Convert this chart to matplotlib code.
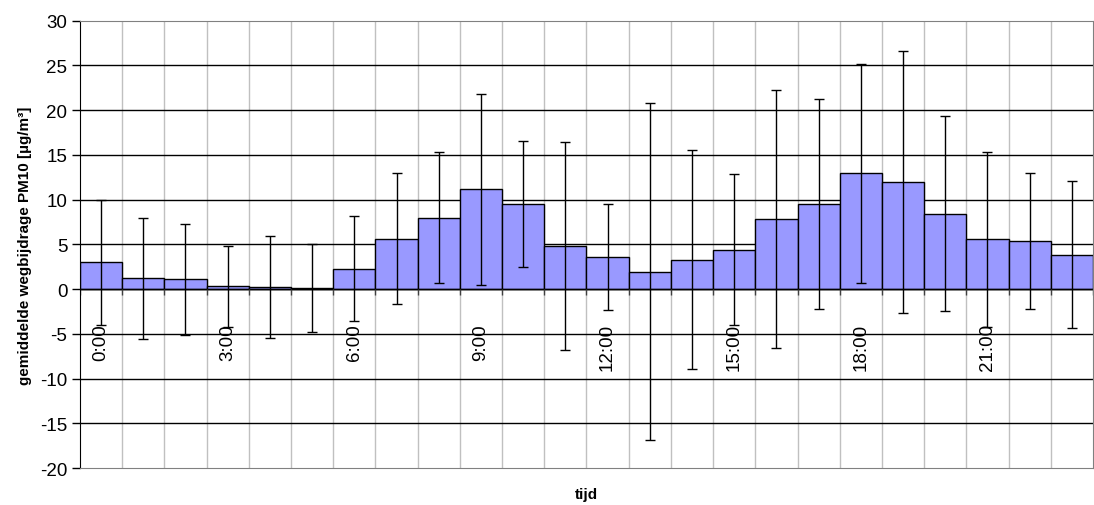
import numpy as np
import matplotlib
matplotlib.use("Agg")
import matplotlib.pyplot as plt

# ---------------- DATA ----------------

hours = list(range(24))
hour_labels = ["0:00", "3:00", "6:00", "9:00", "12:00", "15:00", "18:00", "21:00"]
label_hours = [0, 3, 6, 9, 12, 15, 18, 21]

mean_pm10 = [3.0, 1.2, 1.1, 0.3, 0.25, 0.1, 2.3, 5.65,
             8.0, 11.15, 9.5, 4.8, 3.6, 1.95, 3.3, 4.4,
             7.85, 9.5, 12.95, 12.0, 8.4, 5.55, 5.35, 3.85]

std_pm10 = [7.0, 6.75, 6.2, 4.5, 5.7, 4.9, 5.85, 7.3,
            7.35, 10.7, 7.0, 11.65, 5.95, 18.8, 12.2, 8.45,
            14.45, 11.7, 12.25, 14.65, 10.9, 9.8, 7.6, 8.25]

y_ticks = list(range(-20, 31, 5))

# ---------------- PLOT ----------------

plt.rcParams["font.family"] = ["Liberation Sans", "DejaVu Sans"]

fig = plt.figure(figsize=(10.94, 5.06), dpi=100)
ax = fig.add_axes([0.0731, 0.0731, 0.926, 0.884])

ax.bar(
    hours,
    mean_pm10,
    width=1.0,
    color="#9999FF",
    edgecolor="black",
    linewidth=1.0,
    zorder=2
)

ax.errorbar(
    hours,
    mean_pm10,
    yerr=std_pm10,
    fmt="none",
    ecolor="black",
    elinewidth=1.0,
    capsize=3.3,
    capthick=1.0,
    zorder=3
)

ax.set_xlim(-0.5, 23.5)
ax.set_ylim(-20, 30)

# grid: black horizontal, light grey vertical between hours
for yv in y_ticks[1:-1]:
    ax.axhline(yv, color="black", linewidth=1.0, zorder=1)
for xb in np.arange(0.5, 23.5, 1.0):
    ax.axvline(xb, color="#c0c0c0", linewidth=1.0, zorder=0.5)

# category axis crossing at zero with small tick marks
ax.axhline(0, color="black", linewidth=1.0, zorder=2.5)
ax.vlines(np.arange(-0.5, 24.0, 1.0), -0.7, 0, color="#404040",
          linewidth=1.0, zorder=2.5)

ax.set_yticks(y_ticks)
ax.set_yticklabels([str(v) for v in y_ticks], fontsize=13.5)
ax.tick_params(axis="y", direction="out", length=6, width=1, pad=3)
ax.set_xticks([])

for h, lab in zip(label_hours, hour_labels):
    ax.text(h, -3.8, lab, rotation=90, ha="center", va="top", fontsize=13.5)

for side in ["top", "right", "bottom"]:
    ax.spines[side].set_color("#808080")
ax.spines["left"].set_color("black")

ax.set_ylabel("gemiddelde wegbijdrage PM10 [µg/m³]", fontsize=11,
              fontweight="bold", labelpad=6)
ax.set_xlabel("tijd", fontsize=11, fontweight="bold", labelpad=14)

plt.savefig("out.png", dpi=100)
